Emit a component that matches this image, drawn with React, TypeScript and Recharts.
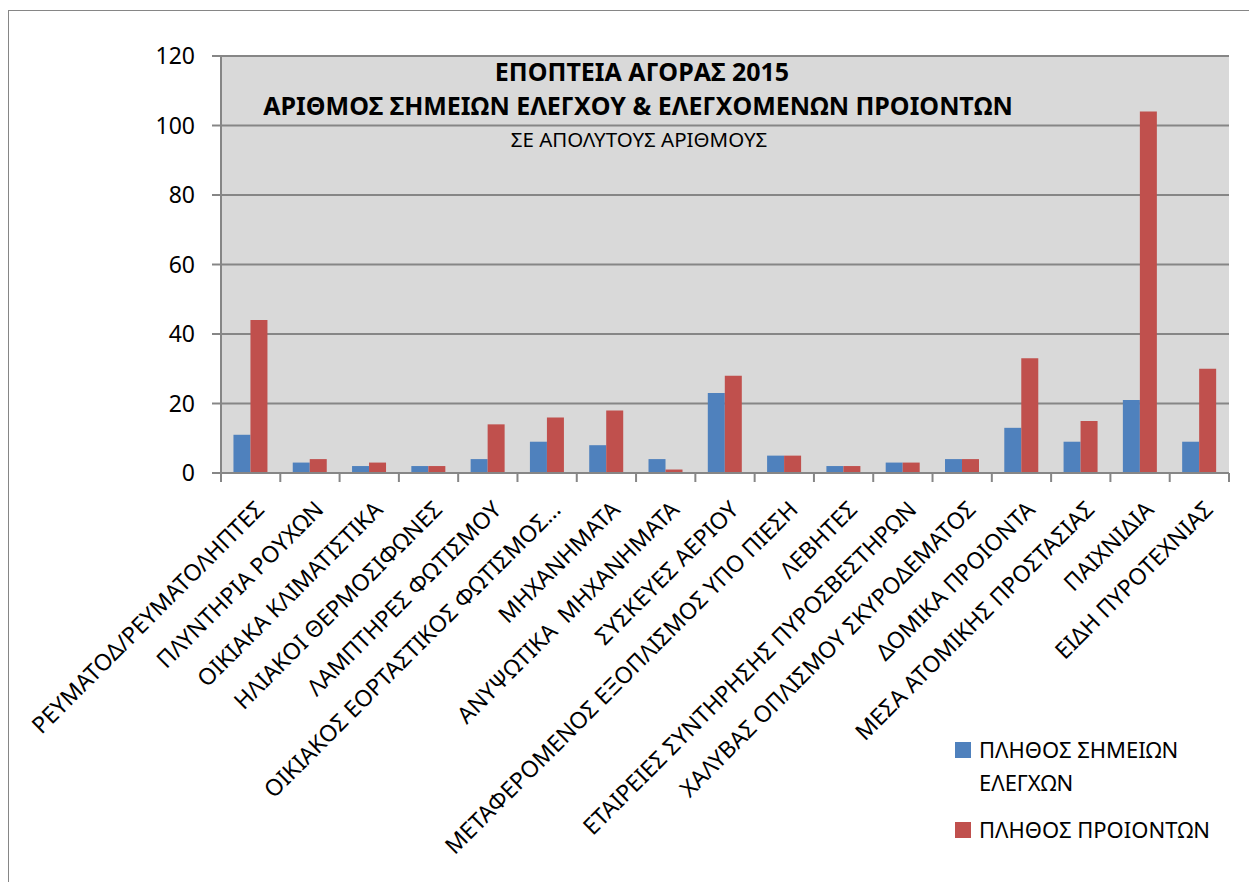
import { Bar, BarChart, CartesianGrid, Legend, XAxis, YAxis } from "recharts";

const categories = [
  "ΡΕΥΜΑΤΟΔ/ΡΕΥΜΑΤΟΛΗΠΤΕΣ",
  "ΠΛΥΝΤΗΡΙΑ ΡΟΥΧΩΝ",
  "ΟΙΚΙΑΚΑ ΚΛΙΜΑΤΙΣΤΙΚΑ",
  "ΗΛΙΑΚΟΙ ΘΕΡΜΟΣΙΦΩΝΕΣ",
  "ΛΑΜΠΤΗΡΕΣ ΦΩΤΙΣΜΟΥ",
  "ΟΙΚΙΑΚΟΣ ΕΟΡΤΑΣΤΙΚΟΣ ΦΩΤΙΣΜΟΣ…",
  "ΜΗΧΑΝΗΜΑΤΑ",
  "ΑΝΥΨΩΤΙΚΑ  ΜΗΧΑΝΗΜΑΤΑ",
  "ΣΥΣΚΕΥΕΣ ΑΕΡΙΟΥ",
  "ΜΕΤΑΦΕΡΟΜΕΝΟΣ ΕΞΟΠΛΙΣΜΟΣ ΥΠΟ ΠΙΕΣΗ",
  "ΛΕΒΗΤΕΣ",
  "ΕΤΑΙΡΕΙΕΣ ΣΥΝΤΗΡΗΣΗΣ ΠΥΡΟΣΒΕΣΤΗΡΩΝ",
  "ΧΑΛΥΒΑΣ ΟΠΛΙΣΜΟΥ ΣΚΥΡΟΔΕΜΑΤΟΣ",
  "ΔΟΜΙΚΑ ΠΡΟΙΟΝΤΑ",
  "ΜΕΣΑ ΑΤΟΜΙΚΗΣ ΠΡΟΣΤΑΣΙΑΣ",
  "ΠΑΙΧΝΙΔΙΑ",
  "ΕΙΔΗ ΠΥΡΟΤΕΧΝΙΑΣ",
];

const checkpoints = [11, 3, 2, 2, 4, 9, 8, 4, 23, 5, 2, 3, 4, 13, 9, 21, 9];
const products = [44, 4, 3, 2, 14, 16, 18, 1, 28, 5, 2, 3, 4, 33, 15, 104, 30];

const yTicks = [0, 20, 40, 60, 80, 100, 120];

const seriesNames = ["ΠΛΗΘΟΣ ΣΗΜΕΙΩΝ ΕΛΕΓΧΩΝ", "ΠΛΗΘΟΣ ΠΡΟΙΟΝΤΩΝ"];

const data = categories.map((name, i) => ({
  name,
  checkpoints: checkpoints[i],
  products: products[i],
}));

const BLUE = "#4F81BD";
const RED = "#C0504D";
const AXIS = "#868686";

const W = 1249;
const H = 878;
const M = { top: 45, right: 29, bottom: 0, left: 152 };
const Y_AXIS_W = 60;
const plotLeft = M.left + Y_AXIS_W;
const BAND = (W - M.right - plotLeft) / categories.length;

function CategoryTick(props: any) {
  const { x, y, payload, index } = props;
  const left = x - BAND / 2;
  const ax = x + 15;
  const ay = y + 38;
  return (
    <g>
      <line x1={left} y1={y} x2={left} y2={y + 9} stroke={AXIS} strokeWidth={2} />
      {index === categories.length - 1 && (
        <line x1={x + BAND / 2} y1={y} x2={x + BAND / 2} y2={y + 9} stroke={AXIS} strokeWidth={2} />
      )}
      <text
        x={ax}
        y={ay}
        textAnchor="end"
        fontSize={23}
        fill="#000"
        transform={`rotate(-45, ${ax}, ${ay})`}
        style={{ whiteSpace: "pre" }}
      >
        {payload.value}
      </text>
    </g>
  );
}

function LegendBox() {
  const items = [
    { color: BLUE, label: seriesNames[0] },
    { color: RED, label: seriesNames[1] },
  ];
  return (
    <div style={{ fontSize: 22, color: "#000", lineHeight: "33px" }}>
      {items.map((it) => (
        <div key={it.label} style={{ display: "flex", alignItems: "flex-start", marginBottom: 14 }}>
          <span
            style={{
              width: 16,
              height: 16,
              background: it.color,
              marginTop: 9,
              marginRight: 8,
              flex: "none",
            }}
          />
          <span style={{ width: 255 }}>{it.label}</span>
        </div>
      ))}
    </div>
  );
}

export default function App() {
  return (
    <div
      style={{
        position: "relative",
        marginTop: 2,
        width: 1262,
        height: 900,
        border: `1px solid ${AXIS}`,
        fontFamily: "'Noto Sans', sans-serif",
        boxSizing: "border-box",
      }}
    >
      <style>{`body{overflow:hidden}`}</style>
      <BarChart
        width={W}
        height={H}
        data={data}
        margin={M}
        barCategoryGap="21%"
        barGap={0}
      >
        <CartesianGrid
          vertical={false}
          fill="#D9D9D9"
          stroke={AXIS}
          strokeWidth={2}
          fillOpacity={1}
        />
        <XAxis
          dataKey="name"
          interval={0}
          height={416}
          tickSize={0}
          tickMargin={0}
          tickLine={false}
          axisLine={{ stroke: AXIS, strokeWidth: 2 }}
          tick={<CategoryTick />}
        />
        <YAxis
          width={Y_AXIS_W}
          domain={[0, 120]}
          ticks={yTicks}
          interval={0}
          tickSize={9}
          tickMargin={17}
          tick={{ fontSize: 23, fill: "#000" }}
          tickLine={{ stroke: AXIS, strokeWidth: 2 }}
          axisLine={{ stroke: AXIS, strokeWidth: 2 }}
        />
        <Legend
          layout="horizontal"
          verticalAlign="middle"
          align="center"
          content={<LegendBox />}
          wrapperStyle={{ left: 946, top: 722, width: 300, height: 140 }}
        />
        <Bar dataKey="checkpoints" name={seriesNames[0]} fill={BLUE} isAnimationActive={false} />
        <Bar dataKey="products" name={seriesNames[1]} fill={RED} isAnimationActive={false} />
        <text x={633} y={70} textAnchor="middle" fontSize={25} fontWeight="bold" fill="#000">
          ΕΠΟΠΤΕΙΑ ΑΓΟΡΑΣ 2015
        </text>
        <text x={629} y={104} textAnchor="middle" fontSize={25} fontWeight="bold" fill="#000">
          ΑΡΙΘΜΟΣ ΣΗΜΕΙΩΝ ΕΛΕΓΧΟΥ &amp; ΕΛΕΓΧΟΜΕΝΩΝ ΠΡΟΙΟΝΤΩΝ
        </text>
        <text x={630} y={136} textAnchor="middle" fontSize={20.5} fill="#000">
          ΣΕ ΑΠΟΛΥΤΟΥΣ ΑΡΙΘΜΟΥΣ
        </text>
      </BarChart>
    </div>
  );
}
